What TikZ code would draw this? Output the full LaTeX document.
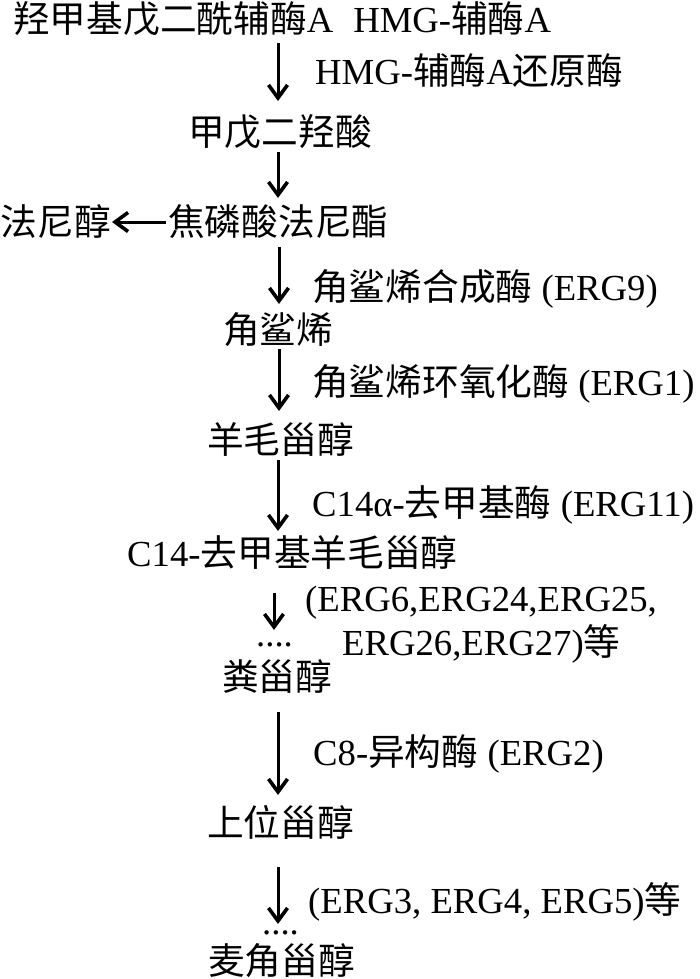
\documentclass[tikz,border=0pt]{standalone}
\usepackage{fontspec}
\setmainfont{Liberation Serif}
\newfontfamily\cjk{Noto Sans CJK SC}
\usetikzlibrary{arrows.meta}
\newcommand{\zh}[1]{{\cjk #1}}
\begin{document}
\begin{tikzpicture}[x=1pt,y=-1pt,
  lbl/.style={anchor=base west,inner sep=0pt,font=\fontsize{36.7pt}{44pt}\selectfont},
  lble/.style={anchor=base east,inner sep=0pt,font=\fontsize{36.7pt}{44pt}\selectfont},
  arr/.style={line width=3pt,-{Straight Barb[length=13pt,width=19pt,line width=3.6pt]}}]
\useasboundingbox[fill=white] (0,0) rectangle (700,979);
% compounds
\node[lbl] (n1) at (13,33) {\zh{羟甲基戊二酰辅酶}A\hspace{20pt}HMG-\zh{辅酶}A};
\node[lbl] (n2) at (188,146) {\zh{甲戊二羟酸}};
\node[lbl] (n3) at (168,235) {\zh{焦磷酸法尼酯}};
\node[lble] (n4) at (111,235) {\zh{法尼醇}};
\node[lbl] (n5) at (223,343) {\zh{角鲨烯}};
\node[lbl] (n6) at (207,453) {\zh{羊毛甾醇}};
\node[lbl] (n7) at (127,566) {C14-\zh{去甲基羊毛甾醇}};
\node[lbl] (n8) at (222,690) {\zh{粪甾醇}};
\node[lbl] (n9) at (207,836) {\zh{上位甾醇}};
\node[lbl] (n10) at (208,974) {\zh{麦角甾醇}};
% enzymes
\node[lbl] (e1) at (315,85) {HMG-\zh{辅酶}A\zh{还原酶}};
\node[lbl] (e3) at (312,300) {\zh{角鲨烯合成酶} (ERG9)};
\node[lbl] (e4) at (312,395) {\zh{角鲨烯环氧化酶} (ERG1)};
\node[lbl] (e5) at (312,516) {C14α-\zh{去甲基酶} (ERG11)};
\node[lbl] (e6a) at (305,611) {(ERG6,ERG24,ERG25,};
\node[lbl] (e6b) at (342,655) {ERG26,ERG27)\zh{等}};
\node[lbl] (e7) at (313,765) {C8-\zh{异构酶} (ERG2)};
\node[lbl] (e8) at (308,913) {(ERG3, ERG4, ERG5)\zh{等}};
% dots
\node[lbl] (d1) at (256,646) {....};
\node[lbl] (d2) at (262,934) {....};
% arrow end points
\coordinate (a1s) at (278,43);  \coordinate (a1e) at (278,101);
\coordinate (a2s) at (278,152); \coordinate (a2e) at (278,198);
\coordinate (a3s) at (279,247); \coordinate (a3e) at (279,304);
\coordinate (a4s) at (279,349); \coordinate (a4e) at (279,411);
\coordinate (a5s) at (278,460); \coordinate (a5e) at (278,531);
\coordinate (a6s) at (274,593); \coordinate (a6e) at (274,630);
\coordinate (a7s) at (278,712); \coordinate (a7e) at (278,795);
\coordinate (a8s) at (278,867); \coordinate (a8e) at (278,924);
\coordinate (hs) at (166,222);  \coordinate (he) at (112,222);
\foreach \i in {1,...,8} {\draw[arr] (a\i s) -- (a\i e);}
\draw[arr] (hs) -- (he);
\end{tikzpicture}
\end{document}
